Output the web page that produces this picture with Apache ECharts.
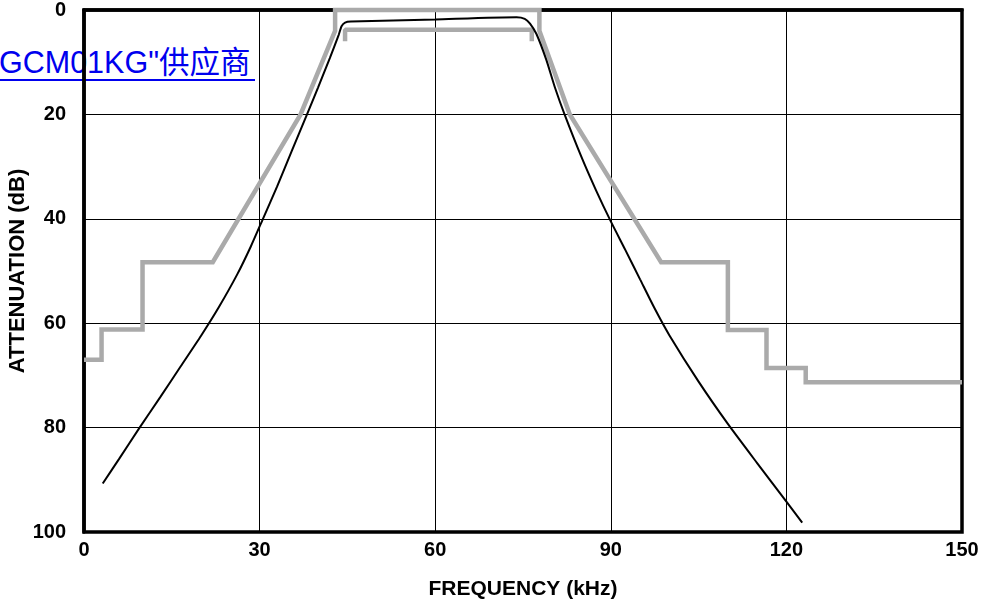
<!DOCTYPE html>
<html>
<head>
<meta charset="utf-8">
<script src="https://cdn.jsdelivr.net/npm/echarts@6/dist/echarts.min.js"></script>
<style>
  html, body { margin: 0; padding: 0; background: #fff; }
  #wrap { position: relative; width: 983px; height: 610px; overflow: hidden; }
  #main { position: absolute; left: 0; top: 0; width: 983px; height: 610px; z-index: 2; }
  #link { position: absolute; left: -1px; top: 47px; z-index: 1; white-space: nowrap;
          font: 30.5px/30px 'Liberation Sans', Arial, 'Noto Sans CJK SC', sans-serif; color: #0000ee; }
  #uline { position: absolute; left: 0; top: 79px; width: 255px; height: 2px; background: #0000ee; z-index: 1; }
</style>
</head>
<body>
<div id="wrap">
  <div id="link">GCM01KG"供应商</div>
  <div id="uline"></div>
  <div id="main"></div>
</div>
<script>
(function(){
    // tick values
    var xTicks = [0, 30, 60, 90, 120, 150];
    var yTicks = [0, 20, 40, 60, 80, 100];

    // measured filter response [kHz, dB]
    var response = [
        [3.2, 90.7], [6, 86], [9.5, 80], [13, 74.2], [16.5, 68.3], [20, 62.4],
        [23, 57], [26.2, 50.6], [28.5, 45.3], [30.5, 40.2], [33, 33.8],
        [35.5, 27], [38.1, 20], [40, 14.8], [42, 9.2], [43.5, 4.8],
        [44.0, 3.1], [44.6, 2.4], [45.6, 2.2], [60, 1.8], [73.9, 1.4],
        [75.3, 1.7], [76.2, 2.6], [77.3, 4.6], [79.0, 9.6], [80.5, 15],
        [82.1, 20], [85, 28.2], [87.5, 34.6], [90, 40.5], [92.5, 46],
        [95, 51.6], [97.5, 57.2], [100, 62.3], [105, 71.2], [110, 79.3],
        [115, 86.8], [120, 94.2], [122.7, 98.2]
    ];

    // outer spec mask (stepped)
    var maskOuter = [
        [0, 67], [3, 67], [3, 61.2], [10, 61.2], [10, 48.3], [22, 48.3],
        [37, 20], [42.9, 4], [42.9, 0], [77.8, 0], [77.8, 4], [83, 20],
        [98.6, 48.3], [110, 48.3], [110, 61.3], [116.6, 61.3], [116.6, 68.6],
        [123.3, 68.6], [123.3, 71.3], [150, 71.3]
    ];

    // passband ripple mask
    var maskInner = [
        [44.6, 6], [44.6, 3.8], [76.5, 3.8], [76.5, 6]
    ];

    var font = "'Liberation Sans', Arial, sans-serif";
    var myChart = echarts.init(document.getElementById('main'));
    var option = {
        animation: false,
        grid: {
            left: 84, right: 21, top: 10, bottom: 78,
            outerBoundsMode: 'none', containLabel: false,
            show: true, borderColor: '#000', borderWidth: 3.5
        },
        xAxis: {
            type: 'value',
            min: xTicks[0], max: xTicks[xTicks.length - 1], interval: 30,
            name: 'FREQUENCY (kHz)',
            nameLocation: 'middle', nameGap: 47, nameMoveOverlap: false,
            nameTextStyle: { fontFamily: font, fontWeight: 'bold', fontSize: 21, color: '#000' },
            axisLine: { lineStyle: { color: '#000', width: 3.5 } },
            axisTick: { show: false },
            axisLabel: { margin: 8, fontFamily: font, fontWeight: 'bold', fontSize: 20, color: '#000' },
            splitLine: { lineStyle: { color: '#000', width: 1 } }
        },
        yAxis: {
            type: 'value', inverse: true,
            min: yTicks[0], max: yTicks[yTicks.length - 1], interval: 20,
            name: 'ATTENUATION (dB)',
            nameLocation: 'middle', nameGap: 55, nameRotate: 90, nameMoveOverlap: false,
            nameTextStyle: { fontFamily: font, fontWeight: 'bold', fontSize: 22, color: '#000' },
            axisLine: { lineStyle: { color: '#000', width: 3.5 } },
            axisTick: { show: false },
            axisLabel: { margin: 18, fontFamily: font, fontWeight: 'bold', fontSize: 20, color: '#000' },
            splitLine: { lineStyle: { color: '#000', width: 1 } }
        },
        series: [
            {
                type: 'line', data: maskOuter, symbol: 'none', clip: false,
                lineStyle: { color: '#aaaaaa', width: 4.5, join: 'miter' }
            },
            {
                type: 'line', data: maskInner, symbol: 'none', clip: false,
                lineStyle: { color: '#aaaaaa', width: 4.5 }
            },
            {
                type: 'line', data: response, symbol: 'none', smooth: 0.2,
                lineStyle: { color: '#000', width: 2 }
            }
        ]
    };
    myChart.setOption(option);
})();
</script>
</body>
</html>
